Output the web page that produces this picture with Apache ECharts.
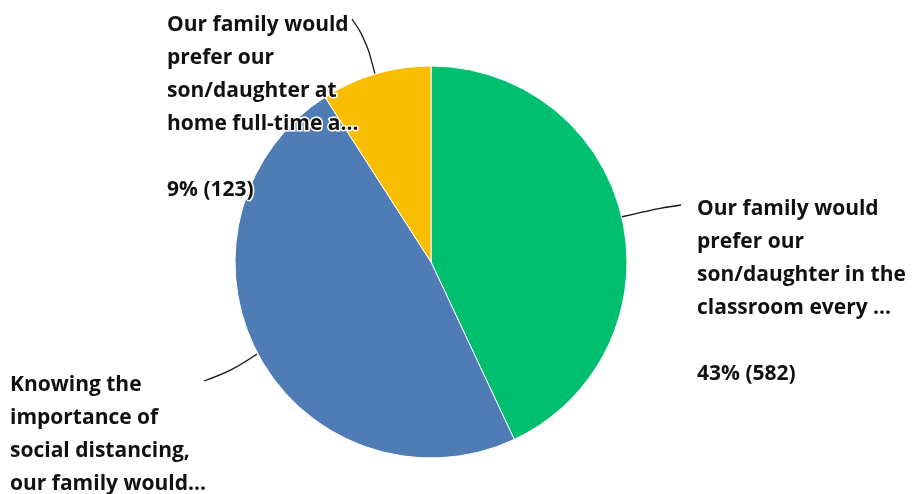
<!DOCTYPE html>
<html><head><meta charset="utf-8">
<script src="https://cdn.jsdelivr.net/npm/echarts@6/dist/echarts.min.js"></script>
<style>html,body{margin:0;padding:0;background:#fff}#c{width:912px;height:494px}</style>
</head><body><div id="c"></div>
<script>
const categories = [
  "Our family would prefer our son/daughter in the classroom every ...",
  "Knowing the importance of social distancing, our family would...",
  "Our family would prefer our son/daughter at home full-time a..."
];
const labelNames = [
  "Our family would\nprefer our\nson/daughter in the\nclassroom every ...",
  "Knowing the\nimportance of\nsocial distancing,\nour family would...",
  "Our family would\nprefer our\nson/daughter at\nhome full-time a..."
];
const counts = [582, 648, 123];
const percents = [43, 48, 9];
const colors = ["#00BF6F", "#507CB6", "#F9BE00"];

// label placement (layout only)
const labelPos = [
  {x: 697, y: 193, line: [[621,217],[660,208],[681,205]]},
  {x: 10, y: 369, line: [[257,354],[232,371],[204,381]]},
  {x: 167, y: 9, line: [[375,74],[366,40],[352,19]]}
];

const chart = echarts.init(document.getElementById('c'), null, {renderer: 'canvas'});
chart.setOption({
  animation: false,
  series: [{
    type: 'pie',
    center: [431, 262],
    radius: 196,
    startAngle: 90,
    clockwise: true,
    avoidLabelOverlap: false,
    itemStyle: {borderColor: '#fff', borderWidth: 1},
    label: {
      show: true,
      position: 'outside',
      fontFamily: 'Open Sans',
      fontWeight: 'bold',
      fontSize: 21,
      lineHeight: 33,
      color: '#111',
      textBorderColor: '#fff',
      textBorderWidth: 3,
      align: 'left',
      formatter: p => labelNames[p.dataIndex] + '\n\n' + percents[p.dataIndex] + '% (' + counts[p.dataIndex] + ')'
    },
    labelLine: {show: true, smooth: 0.4, lineStyle: {color: '#111', width: 1.3}},
    labelLayout: function (params) {
      const lp = labelPos[params.dataIndex];
      return {x: lp.x, y: lp.y, align: 'left', verticalAlign: 'top', labelLinePoints: lp.line};
    },
    data: categories.map((c, i) => ({name: c, value: counts[i], itemStyle: {color: colors[i]}}))
  }]
});
</script></body></html>
